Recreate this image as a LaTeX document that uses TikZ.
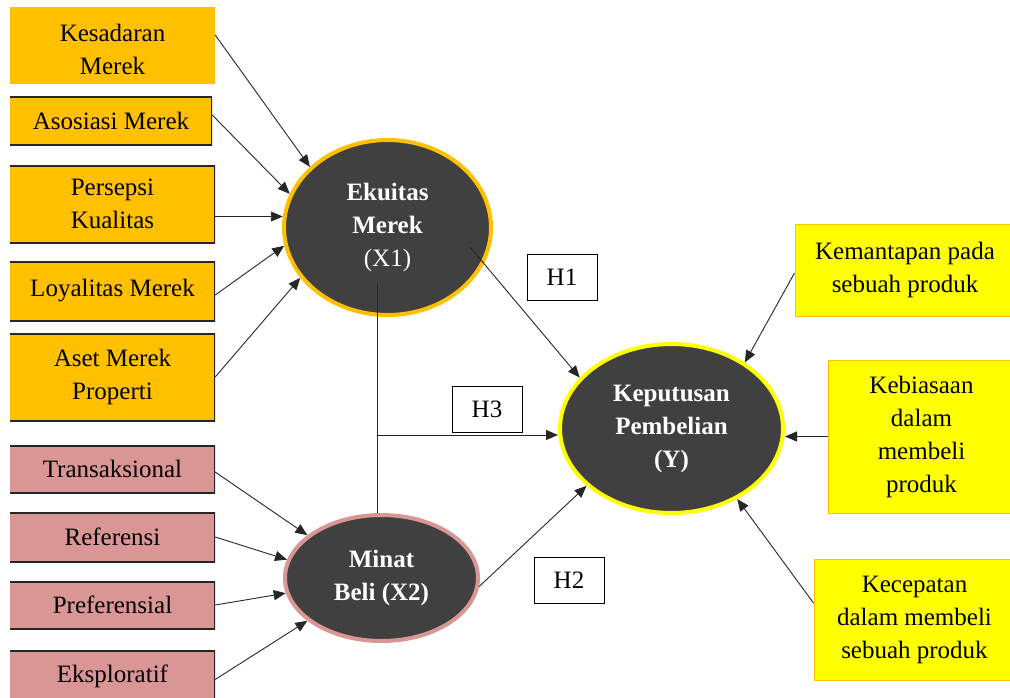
\documentclass[tikz,border=0pt]{standalone}
\usepackage{fontspec}
\setmainfont{Liberation Serif}
\usetikzlibrary{shapes.geometric,arrows.meta,calc}
\definecolor{orangeC}{HTML}{FFC000}
\definecolor{pinkC}{HTML}{D99694}
\definecolor{yellowC}{HTML}{FFFF00}
\definecolor{darkC}{HTML}{404040}
\definecolor{bordC}{HTML}{262626}
\definecolor{lineC}{HTML}{262626}
\newcommand{\myfs}{\fontsize{25}{33}\selectfont}
\begin{document}
\begin{tikzpicture}[x=1pt,y=-1pt,
  base/.style={inner sep=0pt, font=\myfs, align=center, text=black},
  side3/.style={path picture={\draw[line width=3pt, bordC]
      (path picture bounding box.north west) -- (path picture bounding box.north east)
      -- (path picture bounding box.south east) -- (path picture bounding box.south west);}},
  ob/.style={base, fill=orangeC, minimum width=205pt},
  pb/.style={base, fill=pinkC, minimum width=205pt, side3},
  yb/.style={base, fill=yellowC, draw=orangeC, line width=1pt},
  ell/.style={ellipse, fill=darkC, line width=4pt, text=white, font=\myfs\bfseries, align=center, inner sep=0pt},
  hb/.style={base, draw=black, fill=white, line width=1pt, minimum width=70pt, minimum height=46pt},
  arr/.style={draw=lineC, line width=0.9pt, -{Triangle[length=12pt,width=10pt]}},
  ln/.style={draw=lineC, line width=0.9pt}]
\useasboundingbox (0,0) rectangle (1010,697);

% left orange boxes
\node[ob, minimum height=77pt, label={[base, yshift=-4pt]center:Kesadaran\\Merek}] (kes) at (112.5,45.5) {};
\node[ob, side3, minimum width=202pt, minimum height=49pt] (aso) at (111,120.5) {Asosiasi Merek};
\node[ob, side3, minimum height=78pt] (per) at (112.5,204) {Persepsi\\Kualitas};
\node[ob, side3, minimum height=60pt] (loy) at (112.5,291) {Loyalitas Merek};
\node[ob, side3, minimum height=88pt] (aset) at (112.5,377) {Aset Merek\\Properti};

% left pink boxes
\node[pb, minimum height=48pt] (tra) at (112.5,469) {Transaksional};
\node[pb, minimum height=50pt] (ref) at (112.5,537) {Referensi};
\node[pb, minimum height=48pt] (pre) at (112.5,605) {Preferensial};
\node[pb, minimum height=52pt] (eks) at (112.5,676) {Eksploratif};

% right yellow boxes
\node[yb, minimum width=220pt, minimum height=92pt] (kem) at (905,270) {Kemantapan pada\\sebuah produk};
\node[yb, minimum width=187pt, minimum height=153pt] (keb) at (921.5,436.5) {Kebiasaan\\dalam\\membeli\\produk};
\node[yb, minimum width=201pt, minimum height=121pt] (kec) at (914.5,619.5) {Kecepatan\\dalam membeli\\sebuah produk};

% ellipses
\node[ell, draw=orangeC, minimum width=207pt, minimum height=175pt] (x1) at (387.5,227.5) {Ekuitas\\Merek\\{\mdseries (X1)}};
\node[ell, draw=yellowC, minimum width=223pt, minimum height=169pt] (y) at (671.5,428.5) {Keputusan\\Pembelian\\(Y)};
\node[ell, draw=pinkC, minimum width=193pt, minimum height=126pt] (m) at (381.5,578) {Minat\\Beli (X2)};

% hypothesis boxes
\node[hb] (h1) at (562,277) {H1};
\node[hb] (h3) at (487,409.5) {H3};
\node[hb] (h2) at (569,580.5) {H2};

% connectors to X1
\draw[arr] ([yshift=10.5pt]kes.east) -- (x1.142.6);
\draw[arr] ([yshift=5.5pt]aso.east) -- (x1.161.8);
\draw[arr] (per.east |- x1.174) -- (x1.174);
\draw[arr] ([yshift=-4pt]loy.east) -- (x1.190.6);
\draw[arr] (aset.east) -- (x1.210.5);

% connectors to Minat
\draw[arr] ([yshift=-3pt]tra.east) -- (m.150.3);
\draw[arr] (ref.east) -- (m.169.6);
\draw[arr] (pre.east) -- (m.189.8);
\draw[arr] ([yshift=-3.5pt]eks.east) -- (m.210.2);

% hypotheses
\coordinate (x1h) at ($(x1.center)+(82.5,19.5)$);
\draw[arr] (x1h) -- (y.151.3);
\draw[arr] (m.355.9) -- (y.214);
\coordinate (x1in) at ($(x1.center)+(-10.5,56.5)$);
\coordinate (j) at (377.5,435);
\draw[ln] (x1in) -- (x1in |- m.north);
\draw[arr] (j) -- (j -| y.west);

% connectors to Y
\draw[arr] ([yshift=-3pt]kem.west) -- (y.42.6);
\draw[arr] (keb.west) -- (keb.west -| y.east);
\draw[arr] ([yshift=16.5pt]kec.west) -- (y.313.6);
\end{tikzpicture}
\end{document}
